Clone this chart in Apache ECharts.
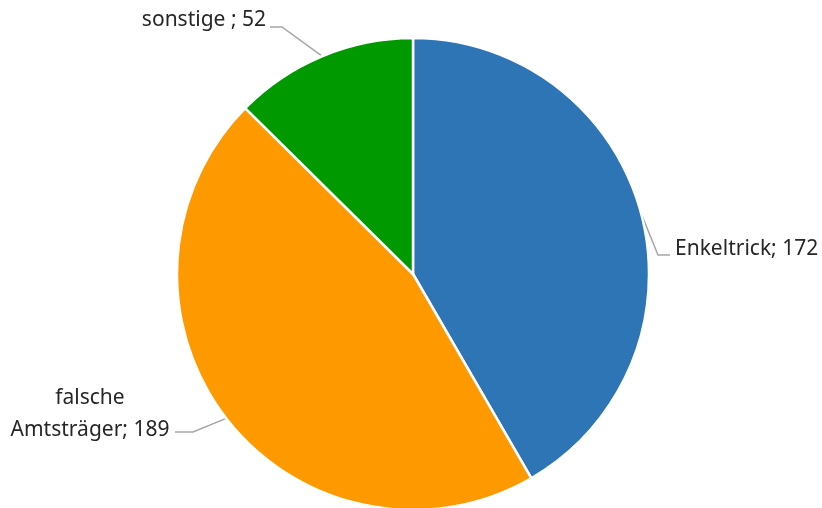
<!DOCTYPE html>
<html>
<head>
<meta charset="utf-8">
<script src="https://cdn.jsdelivr.net/npm/echarts@6/dist/echarts.min.js"></script>
<style>
  html, body { margin: 0; padding: 0; background: #fff; }
  #chart { width: 822px; height: 508px; }
</style>
</head>
<body>
<div id="chart"></div>
<script>
// Fraud cases by type
var categories = ['Enkeltrick', 'falsche\nAmtsträger', 'sonstige '];
var values = [172, 189, 52];
var colors = ['#2E75B6', '#FF9900', '#009A00'];

var data = categories.map(function (name, i) {
  return { name: name, value: values[i], itemStyle: { color: colors[i] } };
});

// Label placement per slice: text anchor, plus leader line elbow and end
var labelPos = [
  { x: 675, y: 249, align: 'left',   bend: [658, 255], end: [670, 255] },
  { x: 90,  y: 414, align: 'center', bend: [193, 432], end: [175, 432] },
  { x: 266, y: 20,  align: 'right',  bend: [282, 27],  end: [270, 27] }
];

var chart = echarts.init(document.getElementById('chart'), null, { renderer: 'canvas' });
chart.setOption({
  animation: false,
  backgroundColor: '#ffffff',
  series: [{
    type: 'pie',
    center: [413, 274],
    radius: [0, 236],
    startAngle: 90,
    clockwise: true,
    data: data,
    itemStyle: { borderColor: '#ffffff', borderWidth: 2.5 },
    label: {
      show: true,
      position: 'outside',
      formatter: '{b}; {c}',
      fontFamily: 'Noto Sans',
      fontSize: 21,
      color: '#262626',
      lineHeight: 32,
      overflow: 'none'
    },
    labelLine: {
      show: true,
      length: 20,
      length2: 12,
      lineStyle: { color: '#A6A6A6', width: 1.5 }
    },
    labelLayout: function (params) {
      var p = labelPos[params.dataIndex];
      var start = params.labelLinePoints ? params.labelLinePoints[0] : p.bend;
      return {
        x: p.x,
        y: p.y,
        align: p.align,
        verticalAlign: 'middle',
        labelLinePoints: [start, p.bend, p.end]
      };
    }
  }]
});
</script>
</body>
</html>
